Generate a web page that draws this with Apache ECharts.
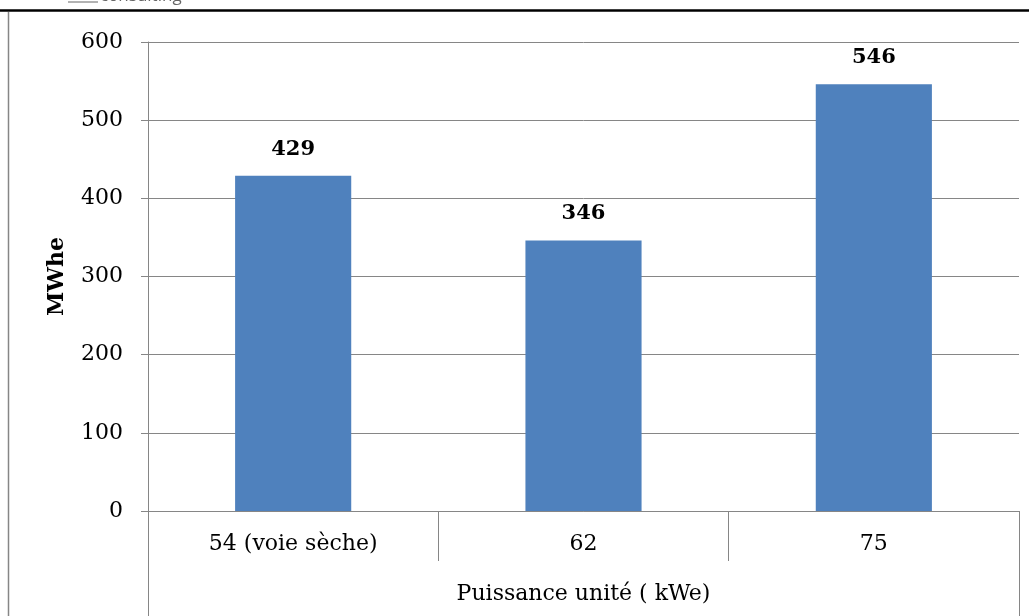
<!DOCTYPE html>
<html>
<head>
<meta charset="utf-8">
<script src="https://cdn.jsdelivr.net/npm/echarts@6/dist/echarts.min.js"></script>
<style>
  html, body { margin: 0; padding: 0; background: #fff; }
  #chart { width: 1029px; height: 616px; }
</style>
</head>
<body>
<div id="chart"></div>
<script>
// Production annuelle selon la puissance de l'unité
const categories = ['54 (voie sèche)', '62', '75'];
const values = [429, 346, 546];
const groupLabel = ['Puissance unité ( kWe)'];
const yTicks = { min: 0, max: 600, step: 100 };

const FONT = '"DejaVu Serif", "Liberation Serif", serif';
const GREY = '#868686';

const chart = echarts.init(document.getElementById('chart'), null, { renderer: 'canvas' });

chart.setOption({
  animation: false,
  backgroundColor: '#ffffff',
  grid: { left: 148, right: 10, top: 42, bottom: 105, containLabel: false },
  xAxis: [
    {
      type: 'category',
      data: categories,
      position: 'bottom',
      axisLine: { show: true, lineStyle: { color: GREY, width: 1 } },
      axisTick: { show: true, interval: 0, length: 50, lineStyle: { color: GREY, width: 1 } },
      axisLabel: { color: '#000', fontFamily: FONT, fontSize: 22, margin: 22 },
      splitLine: { show: false }
    },
    {
      type: 'category',
      data: groupLabel,
      position: 'bottom',
      offset: 50,
      axisLine: { show: false },
      axisTick: { show: true, interval: 0, length: 70, lineStyle: { color: GREY, width: 1 } },
      axisLabel: { color: '#000', fontFamily: FONT, fontSize: 22, margin: 22 },
      splitLine: { show: false }
    }
  ],
  yAxis: {
    type: 'value',
    min: yTicks.min,
    max: yTicks.max,
    interval: yTicks.step,
    name: 'MWhe',
    nameLocation: 'middle',
    nameGap: 80,
    nameRotate: 90,
    nameTextStyle: { color: '#000', fontFamily: FONT, fontSize: 22, fontWeight: 'bold' },
    axisLine: { show: true, lineStyle: { color: GREY, width: 1 } },
    axisTick: { show: true, length: 7, lineStyle: { color: GREY, width: 1 } },
    axisLabel: { color: '#000', fontFamily: FONT, fontSize: 22, margin: 25 },
    splitLine: { show: true, lineStyle: { color: GREY, width: 1 } }
  },
  series: [{
    type: 'bar',
    xAxisIndex: 0,
    data: values,
    barWidth: '40%',
    itemStyle: { color: '#4F81BD' },
    label: {
      show: true,
      position: 'top',
      distance: 16,
      color: '#000',
      fontFamily: FONT,
      fontSize: 21,
      fontWeight: 'bold'
    }
  }],
  graphic: [
    // page header rule and logo fragment
    { type: 'line', shape: { x1: 0, y1: 10.5, x2: 1029, y2: 10.5 }, style: { stroke: '#000', lineWidth: 2.5 } },
    { type: 'line', shape: { x1: 68, y1: 2, x2: 98, y2: 2 }, style: { stroke: '#666', lineWidth: 1 } },
    { type: 'text', left: 100, top: -12, style: { text: 'consulting', fill: '#666', font: '17px "Open Sans", sans-serif' } },
    // outer frame on the left
    { type: 'line', shape: { x1: 8.5, y1: 12, x2: 8.5, y2: 616 }, style: { stroke: GREY, lineWidth: 1.5 } }
  ]
});
</script>
</body>
</html>
